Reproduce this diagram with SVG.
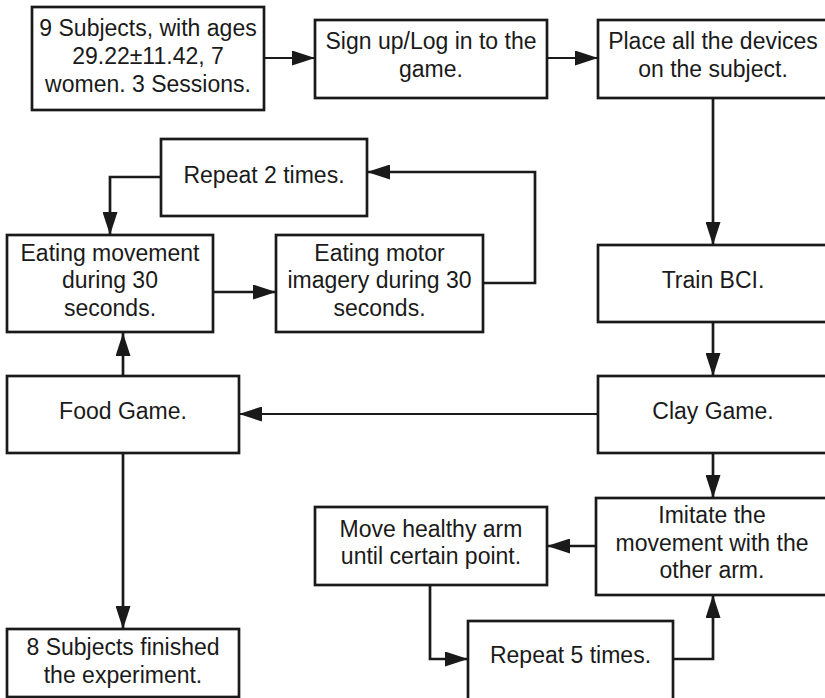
<svg xmlns="http://www.w3.org/2000/svg" width="825" height="698" viewBox="0 0 825 698">
<style>
.box{fill:#fff;stroke:#1a1a1a;stroke-width:2.7}
.t{font-family:"Liberation Sans",Arial,sans-serif;font-size:23px;fill:#1a1a1a;text-anchor:middle}
.c{fill:none;stroke:#1a1a1a;stroke-width:2.7;marker-end:url(#ah)}
.thin{stroke-width:1.8}
</style>
<defs>
<marker id="ah" markerUnits="userSpaceOnUse" markerWidth="23" markerHeight="15" refX="23" refY="7.5" orient="auto">
<path d="M0,0 L23,7.5 L0,15 Z" fill="#1a1a1a"/>
</marker>
</defs>
<rect width="825" height="698" fill="#fff"/>
<g id="connectors">
<path class="c thin" d="M264,58 H315"/>
<path class="c thin" d="M547,58 H598"/>
<path class="c" d="M713,98 V245"/>
<path class="c" d="M713,322 V376"/>
<path class="c thin" d="M598,414 H239"/>
<path class="c" d="M123,376 V333"/>
<path class="c" d="M213,292 H276"/>
<path class="c" d="M483,283 H535 V172 H367"/>
<path class="c" d="M161,177 H110 V235"/>
<path class="c" d="M123,453 V629"/>
<path class="c" d="M713,453 V498"/>
<path class="c" d="M596,546 H547"/>
<path class="c" d="M430,585 V659 H468"/>
<path class="c" d="M673,659 H713 V595"/>
</g>
<g id="n1"><rect class="box" x="32" y="7" width="232" height="103"/>
<text class="t" x="148" y="36">9 Subjects, with ages</text>
<text class="t" x="148" y="64">29.22±11.42, 7</text>
<text class="t" x="148" y="92">women. 3 Sessions.</text></g>
<g id="n2"><rect class="box" x="315" y="20" width="232" height="78"/>
<text class="t" x="431" y="49">Sign up/Log in to the</text>
<text class="t" x="431" y="77">game.</text></g>
<g id="n3"><rect class="box" x="598" y="20" width="232" height="78"/>
<text class="t" x="713" y="49">Place all the devices</text>
<text class="t" x="713" y="77">on the subject.</text></g>
<g id="n4"><rect class="box" x="161" y="139" width="206" height="77"/>
<text class="t" x="264" y="183">Repeat 2 times.</text></g>
<g id="n5"><rect class="box" x="7" y="235" width="206" height="97"/>
<text class="t" x="110" y="261">Eating movement</text>
<text class="t" x="110" y="288">during 30</text>
<text class="t" x="110" y="316">seconds.</text></g>
<g id="n6"><rect class="box" x="276" y="235" width="207" height="97"/>
<text class="t" x="379.5" y="261">Eating motor</text>
<text class="t" x="379.5" y="288">imagery during 30</text>
<text class="t" x="379.5" y="316">seconds.</text></g>
<g id="n7"><rect class="box" x="598" y="245" width="232" height="77"/>
<text class="t" x="713" y="288">Train BCI.</text></g>
<g id="n8"><rect class="box" x="7" y="376" width="232" height="77"/>
<text class="t" x="123" y="419">Food Game.</text></g>
<g id="n9"><rect class="box" x="598" y="376" width="232" height="77"/>
<text class="t" x="713" y="419">Clay Game.</text></g>
<g id="n10"><rect class="box" x="596" y="498" width="234" height="97"/>
<text class="t" x="712" y="523">Imitate the</text>
<text class="t" x="712" y="551">movement with the</text>
<text class="t" x="712" y="578">other arm.</text></g>
<g id="n11"><rect class="box" x="315" y="507" width="232" height="78"/>
<text class="t" x="431" y="537">Move healthy arm</text>
<text class="t" x="431" y="564">until certain point.</text></g>
<g id="n12"><rect class="box" x="468" y="621" width="205" height="80"/>
<text class="t" x="570.5" y="663">Repeat 5 times.</text></g>
<g id="n13"><rect class="box" x="7" y="629" width="232" height="68"/>
<text class="t" x="123" y="655">8 Subjects finished</text>
<text class="t" x="123" y="683">the experiment.</text></g>
</svg>
